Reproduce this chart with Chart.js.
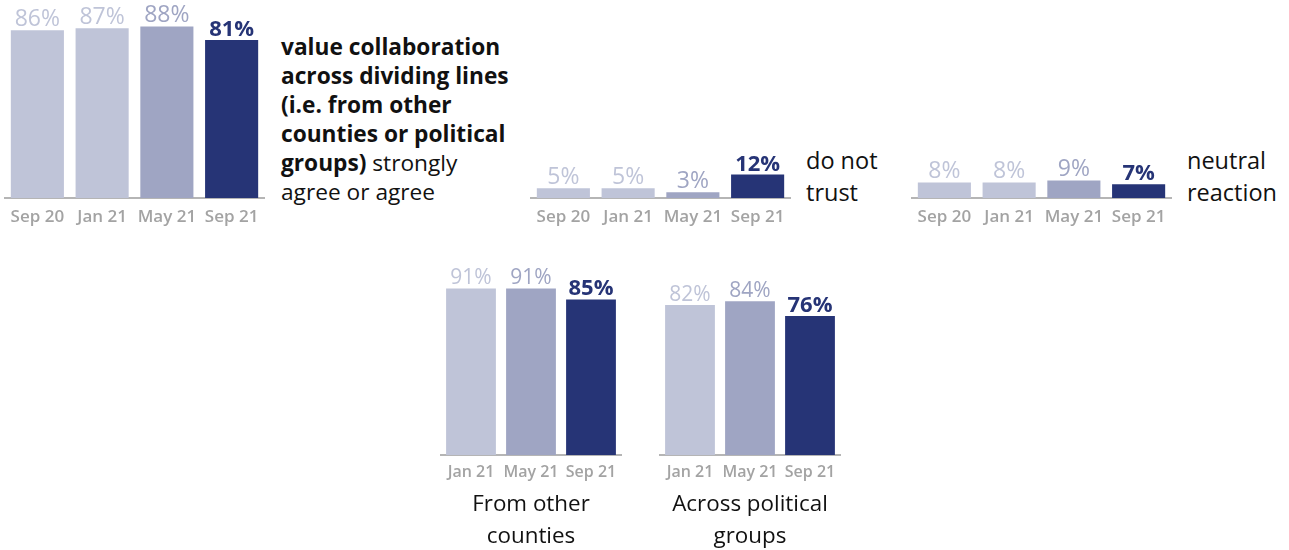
<!DOCTYPE html>
<html>
<head>
<meta charset="utf-8">
<script src="https://cdn.jsdelivr.net/npm/chart.js@4/dist/chart.umd.min.js"></script>
<style>
  body { margin: 0; background: #fff; font-family: "Open Sans", sans-serif; color: #111; }
  #wrap { position: relative; width: 1289px; height: 550px; overflow: hidden; }
  .box { position: absolute; }
  .cap { position: absolute; font-size: 22px; white-space: nowrap; }
</style>
</head>
<body>
<div id="wrap">
  <div class="box" style="left:0;top:0;width:270px;height:230px"><canvas id="c1"></canvas></div>
  <div class="box" style="left:526px;top:0;width:270px;height:230px"><canvas id="c2"></canvas></div>
  <div class="box" style="left:907px;top:0;width:270px;height:230px"><canvas id="c3"></canvas></div>
  <div class="box" style="left:436px;top:250px;width:190px;height:240px"><canvas id="c4"></canvas></div>
  <div class="box" style="left:655px;top:250px;width:190px;height:240px"><canvas id="c5"></canvas></div>

  <div class="cap" style="left:281px;top:32px;line-height:29px;font-size:22.7px"><b>value collaboration<br>across dividing lines<br>(i.e. from other<br>counties or political<br>groups)</b> strongly<br>agree or agree</div>
  <div class="cap" style="left:806px;top:144px;line-height:32px;font-size:23.5px">do not<br>trust</div>
  <div class="cap" style="left:1187px;top:144px;line-height:32px;font-size:23.5px">neutral<br>reaction</div>
  <div class="cap" style="left:441px;top:487px;width:180px;text-align:center;line-height:32px;font-size:22.4px">From other<br>counties</div>
  <div class="cap" style="left:660px;top:487px;width:180px;text-align:center;line-height:32px;font-size:22.4px">Across political<br>groups</div>
</div>
<script>
const topLabels = ['Sep 20', 'Jan 21', 'May 21', 'Sep 21'];
const valueCollab = [86, 87, 88, 81];
const doNotTrust = [5, 5, 3, 12];
const neutralReaction = [8, 8, 9, 7];

const bottomLabels = ['Jan 21', 'May 21', 'Sep 21'];
const fromOtherCounties = [91, 91, 85];
const acrossPolitical = [82, 84, 76];

const light = 'rgb(191,196,216)';
const medium = 'rgb(159,165,195)';
const dark = 'rgb(38,52,118)';
const topColors = [light, light, medium, dark];
const bottomColors = [light, medium, dark];

// percent labels above each bar, last one bold
const valueLabels = {
  id: 'valueLabels',
  afterDatasetsDraw(chart, args, opts) {
    const ctx = chart.ctx;
    const ds = chart.data.datasets[0];
    chart.getDatasetMeta(0).data.forEach((bar, i) => {
      const last = i === ds.data.length - 1;
      ctx.save();
      ctx.font = (last ? '700 ' : '400 ') + (last ? 22 : opts.size) + 'px "Open Sans"';
      ctx.fillStyle = ds.backgroundColor[i];
      ctx.textAlign = 'center';
      ctx.textBaseline = 'alphabetic';
      ctx.fillText(ds.data[i] + '%', bar.x, bar.y - 4);
      ctx.restore();
    });
  }
};

function smallBars(id, labels, values, colors, o) {
  new Chart(document.getElementById(id), {
    type: 'bar',
    data: {
      labels: labels,
      datasets: [{
        data: values,
        backgroundColor: colors,
        barPercentage: o.bar,
        categoryPercentage: 1
      }]
    },
    options: {
      responsive: true,
      maintainAspectRatio: false,
      animation: false,
      events: [],
      layout: { padding: { top: o.top, left: 5, right: o.right, bottom: 0 } },
      plugins: {
        legend: { display: false },
        tooltip: { enabled: false },
        valueLabels: { size: o.valSize }
      },
      scales: {
        y: { display: false, min: 0, max: 100 },
        x: {
          grid: { display: false, drawTicks: false },
          border: { display: true, color: '#b5b5b5', width: 2 },
          ticks: {
            color: '#a3a3a3',
            padding: o.tickPad,
            maxRotation: 0,
            minRotation: 0,
            autoSkip: false,
            font: { family: 'Open Sans', size: o.tickSize, weight: '600' }
          },
          afterFit(scale) { scale.height = o.axisH; }
        }
      }
    },
    plugins: [valueLabels]
  });
}

const topOpts = { top: 3, right: 6, axisH: 32, tickPad: 9, tickSize: 17, valSize: 23, bar: 0.82 };
const bottomOpts = { top: 22, right: 5, axisH: 35, tickPad: 8, tickSize: 16, valSize: 21, bar: 0.83 };

smallBars('c1', topLabels, valueCollab, topColors, topOpts);
smallBars('c2', topLabels, doNotTrust, topColors, topOpts);
smallBars('c3', topLabels, neutralReaction, topColors, topOpts);
smallBars('c4', bottomLabels, fromOtherCounties, bottomColors, bottomOpts);
smallBars('c5', bottomLabels, acrossPolitical, bottomColors, bottomOpts);
</script>
</body>
</html>
